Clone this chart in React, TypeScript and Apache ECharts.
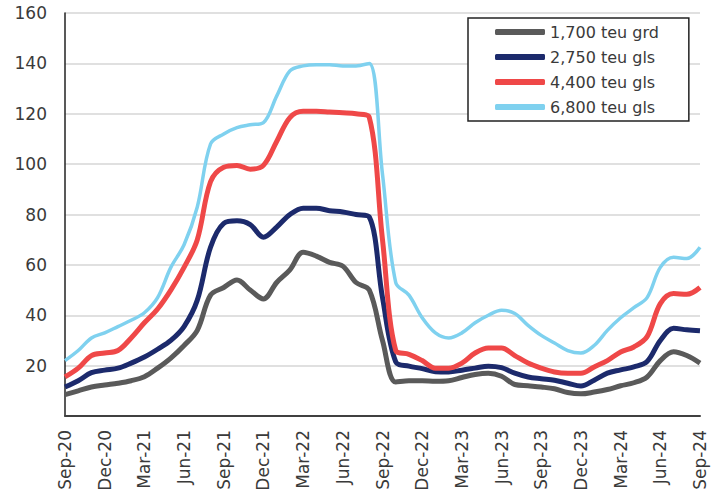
import React, { useEffect, useRef } from "react";
import * as echarts from "echarts";

const months = [
  "Sep-20","Oct-20","Nov-20","Dec-20","Jan-21","Feb-21","Mar-21","Apr-21","May-21","Jun-21","Jul-21","Aug-21",
  "Sep-21","Oct-21","Nov-21","Dec-21","Jan-22","Feb-22","Mar-22","Apr-22","May-22","Jun-22","Jul-22","Aug-22",
  "Sep-22","Oct-22","Nov-22","Dec-22","Jan-23","Feb-23","Mar-23","Apr-23","May-23","Jun-23","Jul-23","Aug-23",
  "Sep-23","Oct-23","Nov-23","Dec-23","Jan-24","Feb-24","Mar-24","Apr-24","May-24","Jun-24","Jul-24","Aug-24",
  "Sep-24",
];

const teu1700 = [
  8.5, 10, 11.5, 12.3, 13, 14, 15.6, 19, 23, 28, 34, 48,
  51, 54, 50, 46.5, 53, 58, 65, 63.5, 61, 59.5, 53, 50,
  30, 13.5, 14, 14, 13.8, 14, 15.3, 16.5, 17, 15.8, 12.5, 12,
  11.5, 10.8, 9.3, 8.8, 9.5, 10.5, 12, 13.2, 15.5, 22, 25.5, 24, 21,
];
const teu2750 = [
  11.5, 14, 17.2, 18.2, 19, 21, 23.4, 26.5, 30, 35.5, 46, 67,
  76.5, 77.5, 76, 71, 75, 80, 82.5, 82.5, 81.5, 81, 80, 79,
  47, 21.5, 19.8, 18.8, 17.6, 17.5, 18.2, 19, 19.8, 19.2, 17, 15.5,
  14.8, 14.2, 13, 11.9, 14.2, 17, 18.3, 19.5, 21.6, 30, 34.8, 34.2, 33.8,
];
const teu4400 = [
  15.5, 19, 24, 25, 26, 31, 37, 42.5, 50, 59, 70, 93,
  98.8, 99.5, 98, 99.5, 109, 118.5, 121, 121, 120.7, 120.4, 120, 118.6,
  70, 26, 24.5, 22, 19, 19, 21, 25, 27, 27, 24, 21,
  19, 17.5, 17, 17, 19.5, 22, 25.4, 27.4, 31.5, 44.6, 48.6, 48.3, 51,
];
const teu6800 = [
  22, 26, 31, 33, 35.5, 38, 41, 47, 59, 68, 83, 108,
  112, 114.5, 115.6, 116.5, 127, 137, 139, 139.5, 139.5, 139, 139, 140,
  96, 53, 48, 39, 33, 31, 33, 37, 40, 42, 40.7, 36,
  32, 29, 26, 25, 28, 34, 39, 43, 47, 59, 63, 62.5, 67,
];

const seriesNames = ["1,700 teu grd", "2,750 teu gls", "4,400 teu gls", "6,800 teu gls"];
const seriesColors = ["#5a5a5a", "#1c2a6c", "#ef4848", "#7fd1ef"];
const seriesWidths = [5, 5, 5, 3.5];
const yTicks = { min: 0, max: 160, interval: 20 };

const FONT = "DejaVu Sans";

export default function App() {
  const ref = useRef<HTMLDivElement>(null);
  useEffect(() => {
    if (!ref.current) return;
    const chart = echarts.init(ref.current, null, { renderer: "svg" });
    const data = [teu1700, teu2750, teu4400, teu6800];
    chart.setOption({
      animation: false,
      backgroundColor: "#ffffff",
      grid: { left: 65, right: 22, top: 13, bottom: 84, containLabel: false },
      legend: {
        orient: "vertical",
        left: 468,
        top: 18,
        backgroundColor: "#ffffff",
        borderColor: "#222222",
        borderWidth: 1.5,
        padding: [5, 30, 5, 27],
        itemGap: 7,
        itemWidth: 50,
        itemHeight: 6,
        icon: "roundRect",
        textStyle: { fontFamily: FONT, fontSize: 16, lineHeight: 18, color: "#3a3a3a" },
        data: seriesNames,
      },
      xAxis: {
        type: "category",
        data: months,
        boundaryGap: false,
        axisLine: { show: true, lineStyle: { color: "#404040", width: 2 } },
        axisTick: { show: false },
        axisLabel: {
          interval: 2,
          rotate: 90,
          margin: 14,
          fontFamily: FONT,
          fontSize: 17,
          color: "#3a3a3a",
        },
        splitLine: { show: false },
      },
      yAxis: {
        type: "value",
        min: yTicks.min,
        max: yTicks.max,
        interval: yTicks.interval,
        axisLine: { show: true, lineStyle: { color: "#222222", width: 1.5 } },
        axisTick: { show: false },
        axisLabel: {
          margin: 18,
          fontFamily: FONT,
          fontSize: 17,
          color: "#3a3a3a",
          formatter: (v: number) => (v === 0 ? "" : String(v)),
        },
        splitLine: { show: true, lineStyle: { color: "#d6d6d6", width: 1.5 } },
      },
      series: seriesNames.map((name, i) => ({
        name,
        type: "line",
        data: data[i],
        smooth: 0.35,
        showSymbol: false,
        symbol: "none",
        lineStyle: { color: seriesColors[i], width: seriesWidths[i] },
        itemStyle: { color: seriesColors[i] },
      })),
    });
    return () => chart.dispose();
  }, []);
  return <div ref={ref} style={{ width: 722, height: 500, position: "absolute", left: 0, top: 0 }} />;
}
